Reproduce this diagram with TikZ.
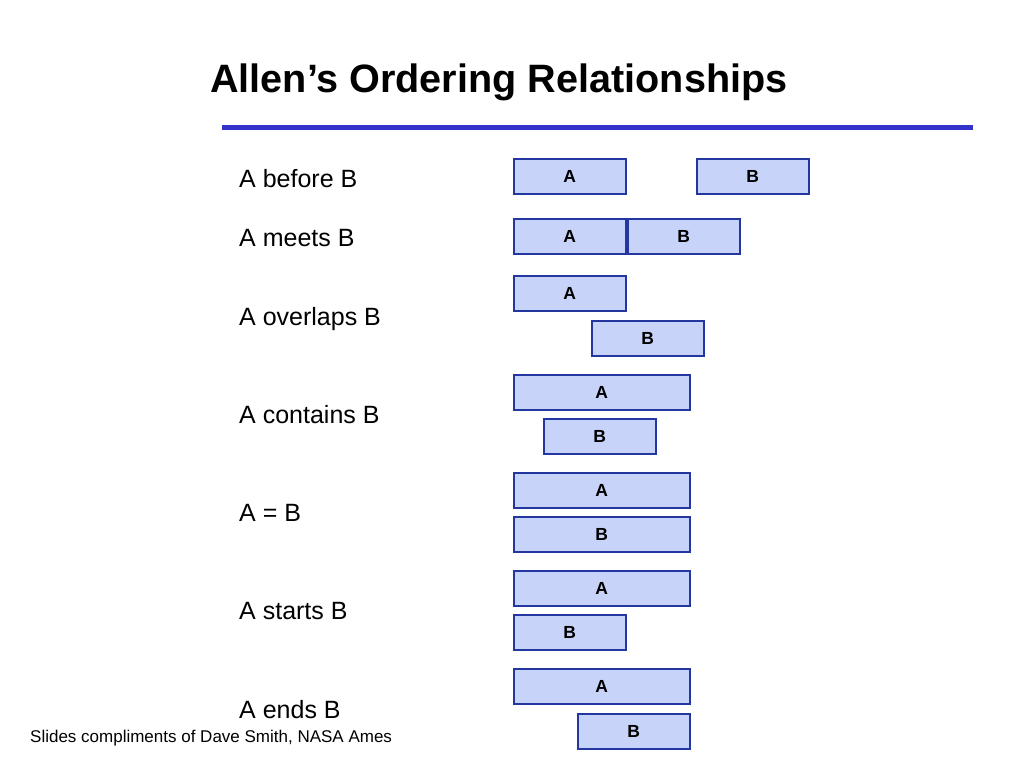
\documentclass[tikz,border=0pt]{standalone}
\usepackage{fontspec}
\setmainfont{Liberation Sans}
\definecolor{boxfill}{RGB}{200,211,250}
\definecolor{boxline}{RGB}{36,54,160}
\definecolor{rulecol}{RGB}{51,51,204}
\begin{document}
\begin{tikzpicture}[x=1pt,y=-1pt,
  ibox/.style={draw=boxline, fill=boxfill, line width=1.5pt, minimum height=35pt, inner sep=0pt, anchor=north west, font=\fontsize{17.5}{17.5}\selectfont\bfseries},
  shortbox/.style={ibox, minimum width=112pt},
  longbox/.style={ibox, minimum width=176pt},
  lbl/.style={anchor=base west, inner sep=0pt, font=\fontsize{25}{25}\selectfont}]
\useasboundingbox[fill=white] (0,0) rectangle (1024,768);
% title and rule
\node[anchor=base west, inner sep=0pt, font=\fontsize{39.6}{39.6}\selectfont\bfseries] (title) at (210,92) {Allen’s Ordering Relationships};
\coordinate (ruleL) at (222,127.5);
\coordinate (ruleR) at (973,127.5);
\draw[line width=4.5pt, rulecol] (ruleL) -- (ruleR);
% labels
\node[lbl] (l1) at (239,187) {A before B};
\node[lbl] (l2) at (239,246) {A meets B};
\node[lbl] (l3) at (239,325) {A overlaps B};
\node[lbl] (l4) at (239,423) {A contains B};
\node[lbl] (l5) at (239,521) {A = B};
\node[lbl] (l6) at (239,619) {A starts B};
\node[lbl] (l7) at (239,718) {A ends B};
% before
\node[shortbox] (a1) at (513,158) {A};
\node[shortbox] (b1) at (696,158) {B};
% meets
\node[shortbox] (a2) at (513,218) {A};
\node[shortbox] (b2) at (627,218) {B};
% overlaps
\node[shortbox] (a3) at (513,275) {A};
\node[shortbox] (b3) at (591,320) {B};
% contains
\node[longbox] (a4) at (513,374) {A};
\node[shortbox] (b4) at (543,418) {B};
% equal
\node[longbox] (a5) at (513,472) {A};
\node[longbox] (b5) at (513,516) {B};
% starts
\node[longbox] (a6) at (513,570) {A};
\node[shortbox] (b6) at (513,614) {B};
% ends
\node[longbox] (a7) at (513,668) {A};
\node[shortbox] (b7) at (577,713) {B};
% footer
\node[anchor=base west, inner sep=0pt, font=\fontsize{17}{17}\selectfont] (foot) at (30,742) {Slides compliments of Dave Smith, NASA Ames};
\end{tikzpicture}
\end{document}
